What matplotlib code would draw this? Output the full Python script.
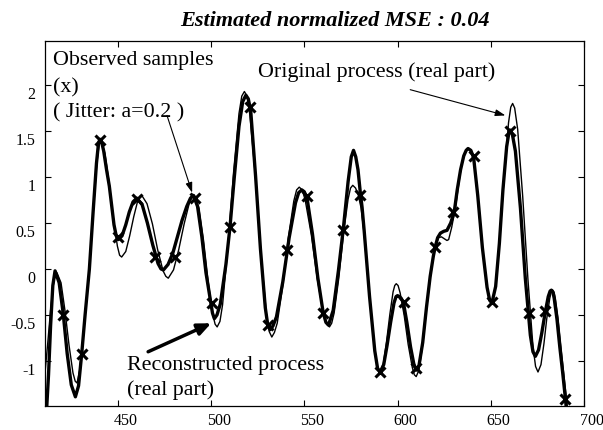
import matplotlib
matplotlib.use("Agg")
import matplotlib.pyplot as plt
from matplotlib.transforms import ScaledTranslation

plt.rcParams['font.family'] = ['Liberation Serif', 'DejaVu Serif']
plt.rcParams['axes.unicode_minus'] = False

# reconstructed process (thick line)
rec_x = [410.5, 411.7, 412.9, 414.0, 415.2, 416.4, 418.6, 420.8, 422.9, 425.1,
         427.3, 429.0, 430.7, 432.5, 434.8, 436.8, 438.6, 439.7, 440.5, 441.5,
         442.5, 444.0, 445.5, 446.8, 448.0, 449.2, 450.3, 452.3, 454.3, 456.2,
         458.2, 460.2, 463.1, 465.9, 468.8, 471.6, 473.2, 474.5, 477.0, 479.5,
         482.0, 484.5, 487.0, 489.0, 490.6, 492.8, 495.1, 497.3, 499.6, 500.8,
         501.8, 503.2, 505.0, 508.0, 510.2, 512.5, 515.0, 517.0, 518.7, 520.0,
         521.3, 523.9, 526.5, 529.1, 530.5, 531.7, 533.2, 535.1, 538.5, 541.9,
         545.3, 547.0, 548.7, 550.0, 551.5, 554.4, 557.3, 560.1, 561.6, 563.0,
         565.5, 568.3, 571.0, 573.5, 575.2, 576.4, 577.6, 578.8, 580.0, 581.0,
         582.1, 585.0, 587.8, 589.3, 590.7, 592.6, 594.4, 596.3, 598.1, 599.2,
         600.0, 601.0, 602.0, 603.2, 605.0, 607.0, 608.7, 610.0, 611.5, 613.5,
         615.5, 617.5, 619.2, 620.2, 621.5, 623.0, 624.8, 626.5, 628.5, 630.4,
         632.0, 633.8, 635.5, 636.8, 637.8, 639.3, 640.8, 643.0, 645.5, 648.0,
         649.4, 650.6, 652.6, 654.6, 656.5, 658.5, 659.6, 660.5, 661.6, 663.2,
         665.9, 668.5, 671.2, 672.6, 673.9, 675.6, 677.3, 679.1, 680.8, 681.8,
         682.5, 683.3, 684.0, 685.5, 687.0, 688.5, 690.0, 691.5, 692.5]
rec_y = [-1.75, -1.59, -1.15, -0.62, -0.18, -0.02, -0.15, -0.49, -0.92, -1.26,
         -1.39, -1.27, -0.92, -0.50, 0.00, 0.62, 1.15, 1.37, 1.41, 1.37,
         1.28, 1.08, 0.90, 0.68, 0.48, 0.36, 0.32, 0.36, 0.48, 0.62,
         0.73, 0.77, 0.70, 0.50, 0.26, 0.06, 0.00, -0.01, 0.05, 0.17,
         0.35, 0.53, 0.68, 0.77, 0.80, 0.68, 0.35, -0.04, -0.33, -0.48,
         -0.54, -0.50, -0.38, 0.05, 0.46, 1.00, 1.55, 1.82, 1.89, 1.85,
         1.72, 1.01, 0.22, -0.42, -0.62, -0.66, -0.62, -0.52, -0.14, 0.34,
         0.72, 0.83, 0.86, 0.84, 0.77, 0.38, -0.10, -0.47, -0.58, -0.61,
         -0.45, -0.02, 0.45, 0.95, 1.22, 1.29, 1.22, 1.08, 0.84, 0.67,
         0.42, -0.30, -0.89, -1.08, -1.12, -1.04, -0.83, -0.58, -0.37, -0.30,
         -0.29, -0.30, -0.32, -0.37, -0.58, -0.85, -1.03, -1.10, -1.05, -0.80,
         -0.42, -0.08, 0.14, 0.24, 0.34, 0.39, 0.41, 0.42, 0.50, 0.62,
         0.86, 1.08, 1.23, 1.29, 1.31, 1.29, 1.21, 0.80, 0.23, -0.20,
         -0.34, -0.37, -0.19, 0.28, 0.86, 1.33, 1.47, 1.51, 1.46, 1.28,
         0.66, -0.10, -0.72, -0.90, -0.95, -0.88, -0.70, -0.48, -0.30, -0.24,
         -0.23, -0.25, -0.32, -0.55, -0.85, -1.12, -1.41, -1.72, -1.95]

# original process (thin line)
orig_x = [410.0, 411.0, 412.5, 414.0, 415.5, 416.5, 417.4, 419.6, 421.7, 423.9,
          426.0, 427.2, 428.2, 429.6, 431.2, 433.0, 435.0, 437.0, 438.8, 440.0,
          440.8, 441.9, 443.1, 445.3, 447.6, 449.8, 451.0, 452.1, 454.3, 456.4,
          458.6, 460.7, 462.0, 462.9, 465.7, 468.6, 471.4, 474.3, 475.8, 477.1,
          479.9, 482.7, 485.6, 488.4, 490.0, 491.2, 493.6, 496.0, 498.5, 500.9,
          502.2, 503.3, 504.8, 506.2, 509.1, 512.1, 515.0, 516.5, 517.9, 519.3,
          520.8, 523.8, 526.7, 529.7, 531.2, 532.6, 534.0, 535.5, 538.5, 541.4,
          544.4, 545.9, 547.3, 548.9, 550.5, 553.8, 557.0, 560.3, 562.0, 563.5,
          564.7, 566.0, 568.5, 571.0, 573.5, 574.8, 576.0, 577.5, 579.0, 580.5,
          582.1, 585.0, 587.8, 589.3, 590.7, 592.4, 594.1, 595.9, 597.6, 598.5,
          599.3, 600.3, 601.4, 603.6, 605.7, 607.9, 609.0, 610.0, 611.5, 613.5,
          615.5, 617.5, 619.2, 620.4, 622.0, 623.5, 625.0, 626.5, 627.4, 629.0,
          631.0, 632.5, 634.0, 635.6, 636.8, 637.8, 639.3, 640.8, 643.0, 645.5,
          648.0, 649.4, 650.6, 652.8, 655.0, 657.3, 659.5, 660.7, 661.7, 662.8,
          664.4, 667.1, 669.9, 672.6, 674.0, 675.3, 676.9, 678.5, 680.0, 681.6,
          682.4, 683.2, 684.0, 684.6, 686.0, 687.5, 689.0, 690.5, 692.0, 693.0]
orig_y = [-1.30, -1.13, -0.80, -0.45, -0.17, -0.06, -0.04, -0.15, -0.45, -0.83,
          -1.13, -1.22, -1.24, -1.10, -0.80, -0.40, 0.05, 0.66, 1.15, 1.35,
          1.38, 1.34, 1.26, 0.95, 0.56, 0.25, 0.15, 0.13, 0.19, 0.36,
          0.57, 0.74, 0.79, 0.80, 0.71, 0.49, 0.21, -0.02, -0.08, -0.10,
          -0.01, 0.21, 0.49, 0.72, 0.79, 0.80, 0.66, 0.31, -0.14, -0.49,
          -0.60, -0.63, -0.57, -0.39, 0.25, 1.05, 1.69, 1.88, 1.93, 1.88,
          1.68, 1.01, 0.18, -0.49, -0.68, -0.74, -0.69, -0.59, -0.18, 0.33,
          0.74, 0.86, 0.89, 0.86, 0.75, 0.37, -0.11, -0.49, -0.60, -0.63,
          -0.59, -0.48, -0.10, 0.38, 0.76, 0.88, 0.91, 0.88, 0.80, 0.66,
          0.38, -0.30, -0.88, -1.07, -1.12, -1.03, -0.79, -0.49, -0.25, -0.18,
          -0.16, -0.18, -0.26, -0.51, -0.82, -1.07, -1.15, -1.17, -1.10, -0.82,
          -0.44, -0.10, 0.13, 0.25, 0.34, 0.35, 0.33, 0.31, 0.32, 0.45,
          0.66, 0.88, 1.09, 1.24, 1.29, 1.31, 1.28, 1.20, 0.78, 0.22,
          -0.20, -0.34, -0.37, -0.16, 0.38, 1.05, 1.59, 1.76, 1.80, 1.75,
          1.52, 0.79, -0.11, -0.84, -1.06, -1.12, -1.04, -0.81, -0.54, -0.32,
          -0.25, -0.23, -0.26, -0.32, -0.53, -0.83, -1.12, -1.40, -1.72, -1.95]

# observed (jittered) samples
samp_x = [420.5, 430.7, 440.5, 450.3, 460.2, 470.0, 480.7, 491.5, 500.4, 510.2,
          521.0, 530.8, 540.7, 551.4, 560.3, 571.0, 580.0, 590.7, 603.2, 610.0,
          620.2, 630.0, 640.8, 650.6, 660.5, 670.3, 679.2, 690.0]
samp_y = [-0.50, -0.92, 1.40, 0.35, 0.76, 0.13, 0.13, 0.77, -0.37, 0.46,
          1.76, -0.61, 0.21, 0.79, -0.48, 0.42, 0.80, -1.12, -0.36, -1.08,
          0.24, 0.62, 1.23, -0.36, 1.50, -0.48, -0.46, -1.41]

xticks = [450, 500, 550, 600, 650, 700]
yticks = [-1, -0.5, 0, 0.5, 1, 1.5, 2]
ytick_labels = ['-1', '-0.5', '0', '0.5', '1', '1.5', '2']

fig = plt.figure(figsize=(6.03, 4.30), dpi=100)
ax = fig.add_axes([0.0746, 0.0558, 0.894, 0.849])

ax.plot(orig_x, orig_y, color='black', lw=1.0, solid_joinstyle='round')
ax.plot(rec_x, rec_y, color='black', lw=2.4, solid_joinstyle='round')
ax.plot(samp_x, samp_y, ls='none', marker='x', ms=7, mew=2.2, color='black')

ax.set_xlim(411, 700)
ax.set_ylim(-1.49, 2.48)
ax.set_xticks(xticks)
ax.set_yticks(yticks)
ax.set_yticklabels(ytick_labels)
ax.tick_params(direction='in', length=4, width=0.8, top=True, right=True,
               labelsize=11.5)
ax.tick_params(axis='x', pad=5)
ax.tick_params(axis='y', pad=7)
for sp in ax.spines.values():
    sp.set_linewidth(0.9)

# labels sit a bit off their ticks, as in the source figure
for lab in ax.get_xticklabels():
    lab.set_transform(lab.get_transform() + ScaledTranslation(0.08, 0, fig.dpi_scale_trans))
for lab in ax.get_yticklabels():
    lab.set_transform(lab.get_transform() + ScaledTranslation(0, -0.08, fig.dpi_scale_trans))

fig.text(0.556, 0.9395, 'Estimated normalized MSE : 0.04', ha='center',
         va='baseline', fontsize=16, fontweight='bold', fontstyle='italic')

tkw = dict(transform=ax.transAxes, fontsize=15.8, va='baseline', ha='left')
ax.text(0.015, 0.934, 'Observed samples', **tkw)
ax.text(0.015, 0.859, '(x)', **tkw)
ax.text(0.015, 0.790, '( Jitter: a=0.2 )', **tkw)
ax.text(0.395, 0.901, 'Original process (real part)', **tkw)
ax.text(0.152, 0.099, 'Reconstructed process', **tkw)
ax.text(0.152, 0.030, '(real part)', **tkw)

ax.annotate('', xy=(489.9, 0.83), xytext=(476.4, 1.67),
            arrowprops=dict(arrowstyle='-|>,head_length=0.6,head_width=0.2',
                            color='black', lw=0.8, shrinkA=0, shrinkB=0))
ax.annotate('', xy=(657.8, 1.67), xytext=(606.8, 1.95),
            arrowprops=dict(arrowstyle='-|>,head_length=0.6,head_width=0.2',
                            color='black', lw=0.8, shrinkA=0, shrinkB=0))
ax.annotate('', xy=(500.1, -0.59), xytext=(466.3, -0.90),
            arrowprops=dict(arrowstyle='-|>,head_length=0.8,head_width=0.35',
                            color='black', lw=2.5, shrinkA=0, shrinkB=0))

fig.savefig('out.png', dpi=100)
